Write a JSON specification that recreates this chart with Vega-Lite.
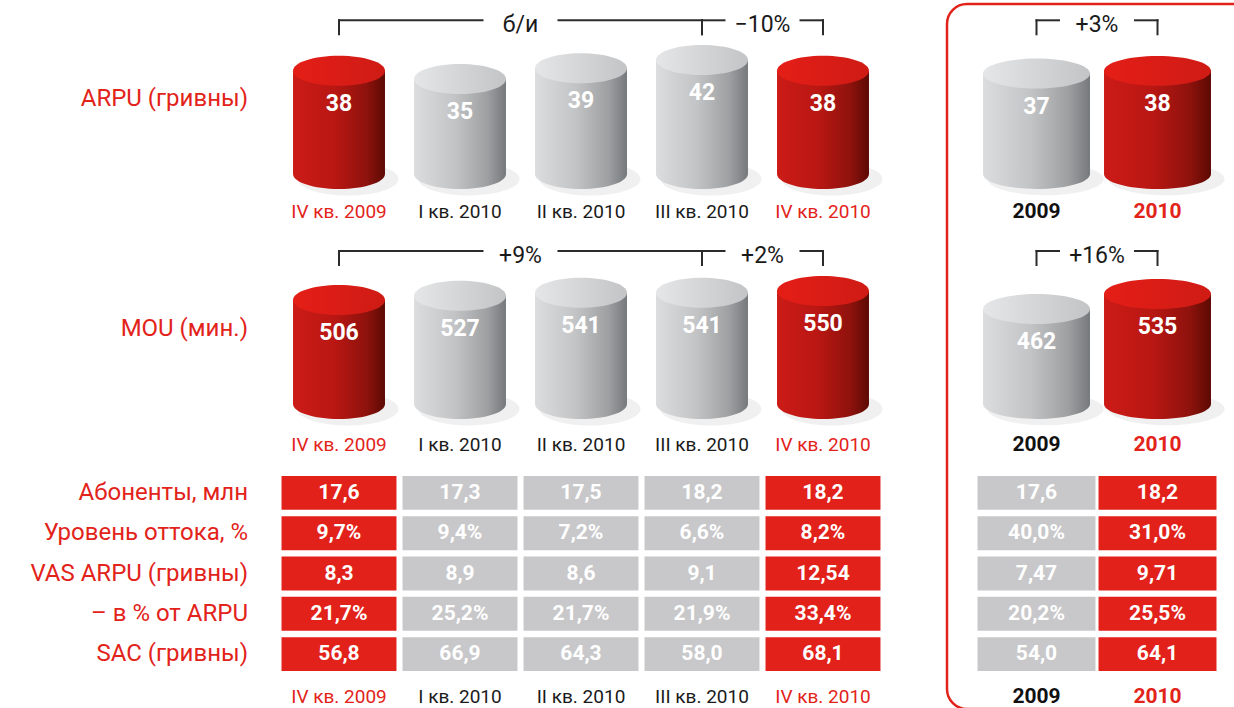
{
  "$schema": "https://vega.github.io/schema/vega-lite/v6.json",
  "padding": {"left": 0, "top": 2, "right": -72, "bottom": 0},
  "background": "white",
  "config": {"view": {"stroke": null}, "axis": {"disable": true}, "text": {"font": "Roboto"}},
  "datasets": {
    "cylQ": [
      {"metric": "ARPU", "period": "IV кв. 2009", "value": 38, "hl": true},
      {"metric": "ARPU", "period": "I кв. 2010", "value": 35, "hl": false},
      {"metric": "ARPU", "period": "II кв. 2010", "value": 39, "hl": false},
      {"metric": "ARPU", "period": "III кв. 2010", "value": 42, "hl": false},
      {"metric": "ARPU", "period": "IV кв. 2010", "value": 38, "hl": true},
      {"metric": "MOU", "period": "IV кв. 2009", "value": 506, "hl": true},
      {"metric": "MOU", "period": "I кв. 2010", "value": 527, "hl": false},
      {"metric": "MOU", "period": "II кв. 2010", "value": 541, "hl": false},
      {"metric": "MOU", "period": "III кв. 2010", "value": 541, "hl": false},
      {"metric": "MOU", "period": "IV кв. 2010", "value": 550, "hl": true}
    ],
    "cylY": [
      {"metric": "ARPU", "period": "2009", "value": 37, "hl": false},
      {"metric": "ARPU", "period": "2010", "value": 38, "hl": true},
      {"metric": "MOU", "period": "2009", "value": 462, "hl": false},
      {"metric": "MOU", "period": "2010", "value": 535, "hl": true}
    ],
    "brkQ": [
      {"metric": "ARPU", "from": "IV кв. 2009", "mid": "I кв. 2010", "to": "III кв. 2010", "text": "б/и"},
      {"metric": "ARPU", "from": "III кв. 2010", "mid": "III кв. 2010", "to": "IV кв. 2010", "text": "−10%"},
      {"metric": "MOU", "from": "IV кв. 2009", "mid": "I кв. 2010", "to": "III кв. 2010", "text": "+9%"},
      {"metric": "MOU", "from": "III кв. 2010", "mid": "III кв. 2010", "to": "IV кв. 2010", "text": "+2%"}
    ],
    "brkY": [
      {"metric": "ARPU", "from": "2009", "mid": "2009", "to": "2010", "text": "+3%"},
      {"metric": "MOU", "from": "2009", "mid": "2009", "to": "2010", "text": "+16%"}
    ],
    "tblQ": [
      {"metric": "Абоненты, млн", "period": "IV кв. 2009", "text": "17,6", "hl": true},
      {"metric": "Абоненты, млн", "period": "I кв. 2010", "text": "17,3", "hl": false},
      {"metric": "Абоненты, млн", "period": "II кв. 2010", "text": "17,5", "hl": false},
      {"metric": "Абоненты, млн", "period": "III кв. 2010", "text": "18,2", "hl": false},
      {"metric": "Абоненты, млн", "period": "IV кв. 2010", "text": "18,2", "hl": true},
      {"metric": "Уровень оттока, %", "period": "IV кв. 2009", "text": "9,7%", "hl": true},
      {"metric": "Уровень оттока, %", "period": "I кв. 2010", "text": "9,4%", "hl": false},
      {"metric": "Уровень оттока, %", "period": "II кв. 2010", "text": "7,2%", "hl": false},
      {"metric": "Уровень оттока, %", "period": "III кв. 2010", "text": "6,6%", "hl": false},
      {"metric": "Уровень оттока, %", "period": "IV кв. 2010", "text": "8,2%", "hl": true},
      {"metric": "VAS ARPU (гривны)", "period": "IV кв. 2009", "text": "8,3", "hl": true},
      {"metric": "VAS ARPU (гривны)", "period": "I кв. 2010", "text": "8,9", "hl": false},
      {"metric": "VAS ARPU (гривны)", "period": "II кв. 2010", "text": "8,6", "hl": false},
      {"metric": "VAS ARPU (гривны)", "period": "III кв. 2010", "text": "9,1", "hl": false},
      {"metric": "VAS ARPU (гривны)", "period": "IV кв. 2010", "text": "12,54", "hl": true},
      {"metric": "– в % от ARPU", "period": "IV кв. 2009", "text": "21,7%", "hl": true},
      {"metric": "– в % от ARPU", "period": "I кв. 2010", "text": "25,2%", "hl": false},
      {"metric": "– в % от ARPU", "period": "II кв. 2010", "text": "21,7%", "hl": false},
      {"metric": "– в % от ARPU", "period": "III кв. 2010", "text": "21,9%", "hl": false},
      {"metric": "– в % от ARPU", "period": "IV кв. 2010", "text": "33,4%", "hl": true},
      {"metric": "SAC (гривны)", "period": "IV кв. 2009", "text": "56,8", "hl": true},
      {"metric": "SAC (гривны)", "period": "I кв. 2010", "text": "66,9", "hl": false},
      {"metric": "SAC (гривны)", "period": "II кв. 2010", "text": "64,3", "hl": false},
      {"metric": "SAC (гривны)", "period": "III кв. 2010", "text": "58,0", "hl": false},
      {"metric": "SAC (гривны)", "period": "IV кв. 2010", "text": "68,1", "hl": true}
    ],
    "tblY": [
      {"metric": "Абоненты, млн", "period": "2009", "text": "17,6", "hl": false},
      {"metric": "Абоненты, млн", "period": "2010", "text": "18,2", "hl": true},
      {"metric": "Уровень оттока, %", "period": "2009", "text": "40,0%", "hl": false},
      {"metric": "Уровень оттока, %", "period": "2010", "text": "31,0%", "hl": true},
      {"metric": "VAS ARPU (гривны)", "period": "2009", "text": "7,47", "hl": false},
      {"metric": "VAS ARPU (гривны)", "period": "2010", "text": "9,71", "hl": true},
      {"metric": "– в % от ARPU", "period": "2009", "text": "20,2%", "hl": false},
      {"metric": "– в % от ARPU", "period": "2010", "text": "25,5%", "hl": true},
      {"metric": "SAC (гривны)", "period": "2009", "text": "54,0", "hl": false},
      {"metric": "SAC (гривны)", "period": "2010", "text": "64,1", "hl": true}
    ],
    "rowLabels": [
      {"metric": "ARPU", "label": "ARPU (гривны)"},
      {"metric": "MOU", "label": "MOU (мин.)"}
    ],
    "tblLabels": [
      {"metric": "Абоненты, млн"},
      {"metric": "Уровень оттока, %"},
      {"metric": "VAS ARPU (гривны)"},
      {"metric": "– в % от ARPU"},
      {"metric": "SAC (гривны)"}
    ]
  },
  "spacing": 28.5,
  "hconcat": [
    {
      "width": 250,
      "height": 705,
      "resolve": {"scale": {"y": "independent"}},
      "layer": [
        {
          "data": {"name": "rowLabels"},
          "mark": {"type": "text", "align": "right", "baseline": "middle", "dx": -2, "fontSize": 24, "color": "#e2231a"},
          "encoding": {
            "x": {"value": "width"},
            "y": {"field": "metric", "type": "nominal", "scale": {"type": "point", "domain": ["ARPU", "MOU"], "range": [95, 325], "padding": 0}},
            "text": {"field": "label"}
          }
        },
        {
          "data": {"name": "tblLabels"},
          "mark": {"type": "text", "align": "right", "baseline": "middle", "dx": -2, "fontSize": 24, "color": "#e2231a"},
          "encoding": {
            "x": {"value": "width"},
            "y": {"field": "metric", "type": "nominal", "scale": {"type": "band", "domain": ["Абоненты, млн", "Уровень оттока, %", "VAS ARPU (гривны)", "– в % от ARPU", "SAC (гривны)"], "range": [472, 667], "paddingInner": 0.16, "paddingOuter": 0}},
            "text": {"field": "metric"}
          }
        }
      ]
    },
    {
      "spacing": 61.5,
      "hconcat": [
        {
          "width": 605,
          "height": 705,
          "resolve": {"scale": {"y": "independent"}},
          "layer": [
            {
              "data": {"name": "cylQ"},
              "transform": [{"filter": "datum.metric === 'ARPU'"}],
              "mark": {"type": "point", "shape": "M-1,0C-1,-0.18,-0.552,-0.326,0,-0.326C0.552,-0.326,1,-0.18,1,0C1,0.18,0.552,0.326,0,0.326C-0.552,0.326,-1,0.18,-1,0Z", "size": 10200, "filled": true, "opacity": 0.06, "fill": "#000", "strokeWidth": 0, "xOffset": 9, "yOffset": 5},
              "encoding": {
                "x": {"field": "period", "type": "nominal", "scale": {"domain": ["IV кв. 2009", "I кв. 2010", "II кв. 2010", "III кв. 2010", "IV кв. 2010"], "paddingInner": 0, "paddingOuter": 0}},
                "y": {"datum": 0, "type": "quantitative", "scale": {"domain": [0, 50], "range": [170, 34.3]}}
              }
            },
            {
              "data": {"name": "cylQ"},
              "transform": [{"filter": "datum.metric === 'ARPU'"}],
              "mark": {"type": "point", "shape": "M-1,0C-1,-0.18,-0.552,-0.326,0,-0.326C0.552,-0.326,1,-0.18,1,0C1,0.18,0.552,0.326,0,0.326C-0.552,0.326,-1,0.18,-1,0Z", "size": 8464, "filled": true, "opacity": 1, "strokeWidth": 0},
              "encoding": {
                "x": {"field": "period", "type": "nominal", "scale": {"domain": ["IV кв. 2009", "I кв. 2010", "II кв. 2010", "III кв. 2010", "IV кв. 2010"], "paddingInner": 0, "paddingOuter": 0}},
                "y": {"datum": 0, "type": "quantitative", "scale": {"domain": [0, 50], "range": [170, 34.3]}},
                "fill": {"condition": {"test": "datum.hl", "value": {"gradient": "linear", "x1": 0, "y1": 0, "x2": 1, "y2": 0, "stops": [{"offset": 0, "color": "#cc1b17"}, {"offset": 0.45, "color": "#b91713"}, {"offset": 0.8, "color": "#8e120d"}, {"offset": 1, "color": "#5c0a03"}]}}, "value": {"gradient": "linear", "x1": 0, "y1": 0, "x2": 1, "y2": 0, "stops": [{"offset": 0, "color": "#dcdddf"}, {"offset": 0.45, "color": "#c2c3c5"}, {"offset": 0.8, "color": "#9d9fa1"}, {"offset": 1, "color": "#76797b"}]}}
              }
            },
            {
              "data": {"name": "cylQ"},
              "transform": [{"filter": "datum.metric === 'ARPU'"}],
              "mark": {"type": "bar", "width": {"band": 0.76}},
              "encoding": {
                "x": {"field": "period", "type": "nominal", "scale": {"domain": ["IV кв. 2009", "I кв. 2010", "II кв. 2010", "III кв. 2010", "IV кв. 2010"], "paddingInner": 0, "paddingOuter": 0}},
                "y": {"field": "value", "type": "quantitative", "scale": {"domain": [0, 50], "range": [170, 34.3]}},
                "y2": {"datum": 0},
                "fill": {"condition": {"test": "datum.hl", "value": {"gradient": "linear", "x1": 0, "y1": 0, "x2": 1, "y2": 0, "stops": [{"offset": 0, "color": "#cc1b17"}, {"offset": 0.45, "color": "#b91713"}, {"offset": 0.8, "color": "#8e120d"}, {"offset": 1, "color": "#5c0a03"}]}}, "value": {"gradient": "linear", "x1": 0, "y1": 0, "x2": 1, "y2": 0, "stops": [{"offset": 0, "color": "#dcdddf"}, {"offset": 0.45, "color": "#c2c3c5"}, {"offset": 0.8, "color": "#9d9fa1"}, {"offset": 1, "color": "#76797b"}]}}
              }
            },
            {
              "data": {"name": "cylQ"},
              "transform": [{"filter": "datum.metric === 'ARPU'"}],
              "mark": {"type": "point", "shape": "M-1,0C-1,-0.18,-0.552,-0.326,0,-0.326C0.552,-0.326,1,-0.18,1,0C1,0.18,0.552,0.326,0,0.326C-0.552,0.326,-1,0.18,-1,0Z", "size": 8464, "filled": true, "opacity": 1, "strokeWidth": 0},
              "encoding": {
                "x": {"field": "period", "type": "nominal", "scale": {"domain": ["IV кв. 2009", "I кв. 2010", "II кв. 2010", "III кв. 2010", "IV кв. 2010"], "paddingInner": 0, "paddingOuter": 0}},
                "y": {"field": "value", "type": "quantitative", "scale": {"domain": [0, 50], "range": [170, 34.3]}},
                "fill": {"condition": {"test": "datum.hl", "value": {"gradient": "linear", "x1": 0, "y1": 0, "x2": 1, "y2": 0, "stops": [{"offset": 0, "color": "#e41e17"}, {"offset": 1, "color": "#cf1b15"}]}}, "value": {"gradient": "linear", "x1": 0, "y1": 0, "x2": 1, "y2": 0, "stops": [{"offset": 0, "color": "#e5e6e7"}, {"offset": 1, "color": "#c3c4c6"}]}}
              }
            },
            {
              "data": {"name": "cylQ"},
              "transform": [{"filter": "datum.metric === 'ARPU'"}],
              "mark": {"type": "text", "dy": 33, "baseline": "middle", "fontSize": 23, "fontWeight": "bold", "fill": "#ffffff"},
              "encoding": {
                "x": {"field": "period", "type": "nominal", "scale": {"domain": ["IV кв. 2009", "I кв. 2010", "II кв. 2010", "III кв. 2010", "IV кв. 2010"], "paddingInner": 0, "paddingOuter": 0}},
                "y": {"field": "value", "type": "quantitative", "scale": {"domain": [0, 50], "range": [170, 34.3]}},
                "text": {"field": "value", "type": "quantitative"}
              }
            },
            {
              "data": {"name": "cylQ"},
              "transform": [{"filter": "datum.metric === 'MOU'"}],
              "mark": {"type": "point", "shape": "M-1,0C-1,-0.18,-0.552,-0.326,0,-0.326C0.552,-0.326,1,-0.18,1,0C1,0.18,0.552,0.326,0,0.326C-0.552,0.326,-1,0.18,-1,0Z", "size": 10200, "filled": true, "opacity": 0.06, "fill": "#000", "strokeWidth": 0, "xOffset": 9, "yOffset": 5},
              "encoding": {
                "x": {"field": "period", "type": "nominal", "scale": {"domain": ["IV кв. 2009", "I кв. 2010", "II кв. 2010", "III кв. 2010", "IV кв. 2010"], "paddingInner": 0, "paddingOuter": 0}},
                "y": {"datum": 0, "type": "quantitative", "scale": {"domain": [0, 600], "range": [400, 276.7]}}
              }
            },
            {
              "data": {"name": "cylQ"},
              "transform": [{"filter": "datum.metric === 'MOU'"}],
              "mark": {"type": "point", "shape": "M-1,0C-1,-0.18,-0.552,-0.326,0,-0.326C0.552,-0.326,1,-0.18,1,0C1,0.18,0.552,0.326,0,0.326C-0.552,0.326,-1,0.18,-1,0Z", "size": 8464, "filled": true, "opacity": 1, "strokeWidth": 0},
              "encoding": {
                "x": {"field": "period", "type": "nominal", "scale": {"domain": ["IV кв. 2009", "I кв. 2010", "II кв. 2010", "III кв. 2010", "IV кв. 2010"], "paddingInner": 0, "paddingOuter": 0}},
                "y": {"datum": 0, "type": "quantitative", "scale": {"domain": [0, 600], "range": [400, 276.7]}},
                "fill": {"condition": {"test": "datum.hl", "value": {"gradient": "linear", "x1": 0, "y1": 0, "x2": 1, "y2": 0, "stops": [{"offset": 0, "color": "#cc1b17"}, {"offset": 0.45, "color": "#b91713"}, {"offset": 0.8, "color": "#8e120d"}, {"offset": 1, "color": "#5c0a03"}]}}, "value": {"gradient": "linear", "x1": 0, "y1": 0, "x2": 1, "y2": 0, "stops": [{"offset": 0, "color": "#dcdddf"}, {"offset": 0.45, "color": "#c2c3c5"}, {"offset": 0.8, "color": "#9d9fa1"}, {"offset": 1, "color": "#76797b"}]}}
              }
            },
            {
              "data": {"name": "cylQ"},
              "transform": [{"filter": "datum.metric === 'MOU'"}],
              "mark": {"type": "bar", "width": {"band": 0.76}},
              "encoding": {
                "x": {"field": "period", "type": "nominal", "scale": {"domain": ["IV кв. 2009", "I кв. 2010", "II кв. 2010", "III кв. 2010", "IV кв. 2010"], "paddingInner": 0, "paddingOuter": 0}},
                "y": {"field": "value", "type": "quantitative", "scale": {"domain": [0, 600], "range": [400, 276.7]}},
                "y2": {"datum": 0},
                "fill": {"condition": {"test": "datum.hl", "value": {"gradient": "linear", "x1": 0, "y1": 0, "x2": 1, "y2": 0, "stops": [{"offset": 0, "color": "#cc1b17"}, {"offset": 0.45, "color": "#b91713"}, {"offset": 0.8, "color": "#8e120d"}, {"offset": 1, "color": "#5c0a03"}]}}, "value": {"gradient": "linear", "x1": 0, "y1": 0, "x2": 1, "y2": 0, "stops": [{"offset": 0, "color": "#dcdddf"}, {"offset": 0.45, "color": "#c2c3c5"}, {"offset": 0.8, "color": "#9d9fa1"}, {"offset": 1, "color": "#76797b"}]}}
              }
            },
            {
              "data": {"name": "cylQ"},
              "transform": [{"filter": "datum.metric === 'MOU'"}],
              "mark": {"type": "point", "shape": "M-1,0C-1,-0.18,-0.552,-0.326,0,-0.326C0.552,-0.326,1,-0.18,1,0C1,0.18,0.552,0.326,0,0.326C-0.552,0.326,-1,0.18,-1,0Z", "size": 8464, "filled": true, "opacity": 1, "strokeWidth": 0},
              "encoding": {
                "x": {"field": "period", "type": "nominal", "scale": {"domain": ["IV кв. 2009", "I кв. 2010", "II кв. 2010", "III кв. 2010", "IV кв. 2010"], "paddingInner": 0, "paddingOuter": 0}},
                "y": {"field": "value", "type": "quantitative", "scale": {"domain": [0, 600], "range": [400, 276.7]}},
                "fill": {"condition": {"test": "datum.hl", "value": {"gradient": "linear", "x1": 0, "y1": 0, "x2": 1, "y2": 0, "stops": [{"offset": 0, "color": "#e41e17"}, {"offset": 1, "color": "#cf1b15"}]}}, "value": {"gradient": "linear", "x1": 0, "y1": 0, "x2": 1, "y2": 0, "stops": [{"offset": 0, "color": "#e5e6e7"}, {"offset": 1, "color": "#c3c4c6"}]}}
              }
            },
            {
              "data": {"name": "cylQ"},
              "transform": [{"filter": "datum.metric === 'MOU'"}],
              "mark": {"type": "text", "dy": 33, "baseline": "middle", "fontSize": 23, "fontWeight": "bold", "fill": "#ffffff"},
              "encoding": {
                "x": {"field": "period", "type": "nominal", "scale": {"domain": ["IV кв. 2009", "I кв. 2010", "II кв. 2010", "III кв. 2010", "IV кв. 2010"], "paddingInner": 0, "paddingOuter": 0}},
                "y": {"field": "value", "type": "quantitative", "scale": {"domain": [0, 600], "range": [400, 276.7]}},
                "text": {"field": "value", "type": "quantitative"}
              }
            },
            {
              "data": {"name": "brkQ"},
              "mark": {"type": "rule", "x2Offset": -38, "color": "#2b2b2b", "strokeWidth": 2, "strokeCap": "square"},
              "encoding": {
                "x": {"field": "from", "type": "nominal", "bandPosition": 0.5, "scale": {"domain": ["IV кв. 2009", "I кв. 2010", "II кв. 2010", "III кв. 2010", "IV кв. 2010"], "paddingInner": 0, "paddingOuter": 0}},
                "x2": {"field": "mid", "bandPosition": 1},
                "y": {"field": "metric", "type": "nominal", "scale": {"type": "point", "domain": ["ARPU", "MOU"], "range": [16.3, 247], "padding": 0}}
              }
            },
            {
              "data": {"name": "brkQ"},
              "mark": {"type": "rule", "xOffset": 38, "color": "#2b2b2b", "strokeWidth": 2, "strokeCap": "square"},
              "encoding": {
                "x": {"field": "mid", "type": "nominal", "bandPosition": 1, "scale": {"domain": ["IV кв. 2009", "I кв. 2010", "II кв. 2010", "III кв. 2010", "IV кв. 2010"], "paddingInner": 0, "paddingOuter": 0}},
                "x2": {"field": "to", "bandPosition": 0.5},
                "y": {"field": "metric", "type": "nominal", "scale": {"type": "point", "domain": ["ARPU", "MOU"], "range": [16.3, 247], "padding": 0}}
              }
            },
            {
              "data": {"name": "brkQ"},
              "mark": {"type": "rule", "y2Offset": 14, "color": "#2b2b2b", "strokeWidth": 2, "strokeCap": "square"},
              "encoding": {
                "x": {"field": "from", "type": "nominal", "bandPosition": 0.5, "scale": {"domain": ["IV кв. 2009", "I кв. 2010", "II кв. 2010", "III кв. 2010", "IV кв. 2010"], "paddingInner": 0, "paddingOuter": 0}},
                "y": {"field": "metric", "type": "nominal", "scale": {"type": "point", "domain": ["ARPU", "MOU"], "range": [16.3, 247], "padding": 0}},
                "y2": {"field": "metric"}
              }
            },
            {
              "data": {"name": "brkQ"},
              "mark": {"type": "rule", "y2Offset": 14, "color": "#2b2b2b", "strokeWidth": 2, "strokeCap": "square"},
              "encoding": {
                "x": {"field": "to", "type": "nominal", "bandPosition": 0.5, "scale": {"domain": ["IV кв. 2009", "I кв. 2010", "II кв. 2010", "III кв. 2010", "IV кв. 2010"], "paddingInner": 0, "paddingOuter": 0}},
                "y": {"field": "metric", "type": "nominal", "scale": {"type": "point", "domain": ["ARPU", "MOU"], "range": [16.3, 247], "padding": 0}},
                "y2": {"field": "metric"}
              }
            },
            {
              "data": {"name": "brkQ"},
              "mark": {"type": "text", "dy": 5, "baseline": "middle", "fontSize": 23, "color": "#1a1a1a"},
              "encoding": {
                "x": {"field": "mid", "type": "nominal", "bandPosition": 1, "scale": {"domain": ["IV кв. 2009", "I кв. 2010", "II кв. 2010", "III кв. 2010", "IV кв. 2010"], "paddingInner": 0, "paddingOuter": 0}},
                "y": {"field": "metric", "type": "nominal", "scale": {"type": "point", "domain": ["ARPU", "MOU"], "range": [16.3, 247], "padding": 0}},
                "text": {"field": "text"}
              }
            },
            {
              "data": {"name": "cylQ"},
              "mark": {"type": "text", "baseline": "middle", "fontSize": 19},
              "encoding": {
                "x": {"field": "period", "type": "nominal", "scale": {"domain": ["IV кв. 2009", "I кв. 2010", "II кв. 2010", "III кв. 2010", "IV кв. 2010"], "paddingInner": 0, "paddingOuter": 0}},
                "y": {"field": "metric", "type": "nominal", "scale": {"type": "point", "domain": ["ARPU", "MOU"], "range": [208, 441], "padding": 0}},
                "text": {"field": "period"},
                "color": {"condition": {"test": "datum.hl", "value": "#e2231a"}, "value": "#1a1a1a"}
              }
            },
            {
              "data": {"name": "tblQ"},
              "mark": {"type": "rect", "width": {"band": 0.95}},
              "encoding": {
                "x": {"field": "period", "type": "nominal", "scale": {"domain": ["IV кв. 2009", "I кв. 2010", "II кв. 2010", "III кв. 2010", "IV кв. 2010"], "paddingInner": 0, "paddingOuter": 0}},
                "y": {"field": "metric", "type": "nominal", "scale": {"type": "band", "domain": ["Абоненты, млн", "Уровень оттока, %", "VAS ARPU (гривны)", "– в % от ARPU", "SAC (гривны)"], "range": [472, 667], "paddingInner": 0.16, "paddingOuter": 0}},
                "fill": {"condition": {"test": "datum.hl", "value": "#e2211a"}, "value": "#c8c8ca"}
              }
            },
            {
              "data": {"name": "tblQ"},
              "mark": {"type": "text", "baseline": "middle", "fontSize": 21, "fontWeight": "bold", "fill": "#ffffff"},
              "encoding": {
                "x": {"field": "period", "type": "nominal", "scale": {"domain": ["IV кв. 2009", "I кв. 2010", "II кв. 2010", "III кв. 2010", "IV кв. 2010"], "paddingInner": 0, "paddingOuter": 0}},
                "y": {"field": "metric", "type": "nominal", "scale": {"type": "band", "domain": ["Абоненты, млн", "Уровень оттока, %", "VAS ARPU (гривны)", "– в % от ARPU", "SAC (гривны)"], "range": [472, 667], "paddingInner": 0.16, "paddingOuter": 0}},
                "text": {"field": "text"}
              }
            },
            {
              "data": {"name": "tblQ"},
              "transform": [{"filter": "datum.metric === 'SAC (гривны)'"}],
              "mark": {"type": "text", "baseline": "middle", "dy": 43, "fontSize": 19},
              "encoding": {
                "x": {"field": "period", "type": "nominal", "scale": {"domain": ["IV кв. 2009", "I кв. 2010", "II кв. 2010", "III кв. 2010", "IV кв. 2010"], "paddingInner": 0, "paddingOuter": 0}},
                "y": {"field": "metric", "type": "nominal", "scale": {"type": "band", "domain": ["Абоненты, млн", "Уровень оттока, %", "VAS ARPU (гривны)", "– в % от ARPU", "SAC (гривны)"], "range": [472, 667], "paddingInner": 0.16, "paddingOuter": 0}},
                "text": {"field": "period"},
                "color": {"condition": {"test": "datum.hl", "value": "#e2231a"}, "value": "#1a1a1a"}
              }
            }
          ]
        },
        {
          "width": 360,
          "height": 705,
          "view": {"stroke": "#e2231a", "strokeWidth": 2.5, "cornerRadius": 20, "fill": null},
          "resolve": {"scale": {"y": "independent"}},
          "layer": [
            {
              "data": {"name": "cylY"},
              "transform": [{"filter": "datum.metric === 'ARPU'"}],
              "mark": {"type": "point", "shape": "M-1,0C-1,-0.155,-0.552,-0.28,0,-0.28C0.552,-0.28,1,-0.155,1,0C1,0.155,0.552,0.28,0,0.28C-0.552,0.28,-1,0.155,-1,0Z", "size": 13500, "filled": true, "opacity": 0.06, "fill": "#000", "strokeWidth": 0, "xOffset": 9, "yOffset": 5},
              "encoding": {
                "x": {"field": "period", "type": "nominal", "scale": {"domain": ["2009", "2010"], "paddingInner": 0, "paddingOuter": 0.4876, "align": 0.2458}},
                "y": {"datum": 0, "type": "quantitative", "scale": {"domain": [0, 50], "range": [170, 34.3]}}
              }
            },
            {
              "data": {"name": "cylY"},
              "transform": [{"filter": "datum.metric === 'ARPU'"}],
              "mark": {"type": "point", "shape": "M-1,0C-1,-0.155,-0.552,-0.28,0,-0.28C0.552,-0.28,1,-0.155,1,0C1,0.155,0.552,0.28,0,0.28C-0.552,0.28,-1,0.155,-1,0Z", "size": 11449, "filled": true, "opacity": 1, "strokeWidth": 0},
              "encoding": {
                "x": {"field": "period", "type": "nominal", "scale": {"domain": ["2009", "2010"], "paddingInner": 0, "paddingOuter": 0.4876, "align": 0.2458}},
                "y": {"datum": 0, "type": "quantitative", "scale": {"domain": [0, 50], "range": [170, 34.3]}},
                "fill": {"condition": {"test": "datum.hl", "value": {"gradient": "linear", "x1": 0, "y1": 0, "x2": 1, "y2": 0, "stops": [{"offset": 0, "color": "#cc1b17"}, {"offset": 0.45, "color": "#b91713"}, {"offset": 0.8, "color": "#8e120d"}, {"offset": 1, "color": "#5c0a03"}]}}, "value": {"gradient": "linear", "x1": 0, "y1": 0, "x2": 1, "y2": 0, "stops": [{"offset": 0, "color": "#dcdddf"}, {"offset": 0.45, "color": "#c2c3c5"}, {"offset": 0.8, "color": "#9d9fa1"}, {"offset": 1, "color": "#76797b"}]}}
              }
            },
            {
              "data": {"name": "cylY"},
              "transform": [{"filter": "datum.metric === 'ARPU'"}],
              "mark": {"type": "bar", "width": {"band": 0.884}},
              "encoding": {
                "x": {"field": "period", "type": "nominal", "scale": {"domain": ["2009", "2010"], "paddingInner": 0, "paddingOuter": 0.4876, "align": 0.2458}},
                "y": {"field": "value", "type": "quantitative", "scale": {"domain": [0, 50], "range": [170, 34.3]}},
                "y2": {"datum": 0},
                "fill": {"condition": {"test": "datum.hl", "value": {"gradient": "linear", "x1": 0, "y1": 0, "x2": 1, "y2": 0, "stops": [{"offset": 0, "color": "#cc1b17"}, {"offset": 0.45, "color": "#b91713"}, {"offset": 0.8, "color": "#8e120d"}, {"offset": 1, "color": "#5c0a03"}]}}, "value": {"gradient": "linear", "x1": 0, "y1": 0, "x2": 1, "y2": 0, "stops": [{"offset": 0, "color": "#dcdddf"}, {"offset": 0.45, "color": "#c2c3c5"}, {"offset": 0.8, "color": "#9d9fa1"}, {"offset": 1, "color": "#76797b"}]}}
              }
            },
            {
              "data": {"name": "cylY"},
              "transform": [{"filter": "datum.metric === 'ARPU'"}],
              "mark": {"type": "point", "shape": "M-1,0C-1,-0.155,-0.552,-0.28,0,-0.28C0.552,-0.28,1,-0.155,1,0C1,0.155,0.552,0.28,0,0.28C-0.552,0.28,-1,0.155,-1,0Z", "size": 11449, "filled": true, "opacity": 1, "strokeWidth": 0},
              "encoding": {
                "x": {"field": "period", "type": "nominal", "scale": {"domain": ["2009", "2010"], "paddingInner": 0, "paddingOuter": 0.4876, "align": 0.2458}},
                "y": {"field": "value", "type": "quantitative", "scale": {"domain": [0, 50], "range": [170, 34.3]}},
                "fill": {"condition": {"test": "datum.hl", "value": {"gradient": "linear", "x1": 0, "y1": 0, "x2": 1, "y2": 0, "stops": [{"offset": 0, "color": "#e41e17"}, {"offset": 1, "color": "#cf1b15"}]}}, "value": {"gradient": "linear", "x1": 0, "y1": 0, "x2": 1, "y2": 0, "stops": [{"offset": 0, "color": "#e5e6e7"}, {"offset": 1, "color": "#c3c4c6"}]}}
              }
            },
            {
              "data": {"name": "cylY"},
              "transform": [{"filter": "datum.metric === 'ARPU'"}],
              "mark": {"type": "text", "dy": 33, "baseline": "middle", "fontSize": 23, "fontWeight": "bold", "fill": "#ffffff"},
              "encoding": {
                "x": {"field": "period", "type": "nominal", "scale": {"domain": ["2009", "2010"], "paddingInner": 0, "paddingOuter": 0.4876, "align": 0.2458}},
                "y": {"field": "value", "type": "quantitative", "scale": {"domain": [0, 50], "range": [170, 34.3]}},
                "text": {"field": "value", "type": "quantitative"}
              }
            },
            {
              "data": {"name": "cylY"},
              "transform": [{"filter": "datum.metric === 'MOU'"}],
              "mark": {"type": "point", "shape": "M-1,0C-1,-0.155,-0.552,-0.28,0,-0.28C0.552,-0.28,1,-0.155,1,0C1,0.155,0.552,0.28,0,0.28C-0.552,0.28,-1,0.155,-1,0Z", "size": 13500, "filled": true, "opacity": 0.06, "fill": "#000", "strokeWidth": 0, "xOffset": 9, "yOffset": 5},
              "encoding": {
                "x": {"field": "period", "type": "nominal", "scale": {"domain": ["2009", "2010"], "paddingInner": 0, "paddingOuter": 0.4876, "align": 0.2458}},
                "y": {"datum": 0, "type": "quantitative", "scale": {"domain": [0, 600], "range": [400, 276.7]}}
              }
            },
            {
              "data": {"name": "cylY"},
              "transform": [{"filter": "datum.metric === 'MOU'"}],
              "mark": {"type": "point", "shape": "M-1,0C-1,-0.155,-0.552,-0.28,0,-0.28C0.552,-0.28,1,-0.155,1,0C1,0.155,0.552,0.28,0,0.28C-0.552,0.28,-1,0.155,-1,0Z", "size": 11449, "filled": true, "opacity": 1, "strokeWidth": 0},
              "encoding": {
                "x": {"field": "period", "type": "nominal", "scale": {"domain": ["2009", "2010"], "paddingInner": 0, "paddingOuter": 0.4876, "align": 0.2458}},
                "y": {"datum": 0, "type": "quantitative", "scale": {"domain": [0, 600], "range": [400, 276.7]}},
                "fill": {"condition": {"test": "datum.hl", "value": {"gradient": "linear", "x1": 0, "y1": 0, "x2": 1, "y2": 0, "stops": [{"offset": 0, "color": "#cc1b17"}, {"offset": 0.45, "color": "#b91713"}, {"offset": 0.8, "color": "#8e120d"}, {"offset": 1, "color": "#5c0a03"}]}}, "value": {"gradient": "linear", "x1": 0, "y1": 0, "x2": 1, "y2": 0, "stops": [{"offset": 0, "color": "#dcdddf"}, {"offset": 0.45, "color": "#c2c3c5"}, {"offset": 0.8, "color": "#9d9fa1"}, {"offset": 1, "color": "#76797b"}]}}
              }
            },
            {
              "data": {"name": "cylY"},
              "transform": [{"filter": "datum.metric === 'MOU'"}],
              "mark": {"type": "bar", "width": {"band": 0.884}},
              "encoding": {
                "x": {"field": "period", "type": "nominal", "scale": {"domain": ["2009", "2010"], "paddingInner": 0, "paddingOuter": 0.4876, "align": 0.2458}},
                "y": {"field": "value", "type": "quantitative", "scale": {"domain": [0, 600], "range": [400, 276.7]}},
                "y2": {"datum": 0},
                "fill": {"condition": {"test": "datum.hl", "value": {"gradient": "linear", "x1": 0, "y1": 0, "x2": 1, "y2": 0, "stops": [{"offset": 0, "color": "#cc1b17"}, {"offset": 0.45, "color": "#b91713"}, {"offset": 0.8, "color": "#8e120d"}, {"offset": 1, "color": "#5c0a03"}]}}, "value": {"gradient": "linear", "x1": 0, "y1": 0, "x2": 1, "y2": 0, "stops": [{"offset": 0, "color": "#dcdddf"}, {"offset": 0.45, "color": "#c2c3c5"}, {"offset": 0.8, "color": "#9d9fa1"}, {"offset": 1, "color": "#76797b"}]}}
              }
            },
            {
              "data": {"name": "cylY"},
              "transform": [{"filter": "datum.metric === 'MOU'"}],
              "mark": {"type": "point", "shape": "M-1,0C-1,-0.155,-0.552,-0.28,0,-0.28C0.552,-0.28,1,-0.155,1,0C1,0.155,0.552,0.28,0,0.28C-0.552,0.28,-1,0.155,-1,0Z", "size": 11449, "filled": true, "opacity": 1, "strokeWidth": 0},
              "encoding": {
                "x": {"field": "period", "type": "nominal", "scale": {"domain": ["2009", "2010"], "paddingInner": 0, "paddingOuter": 0.4876, "align": 0.2458}},
                "y": {"field": "value", "type": "quantitative", "scale": {"domain": [0, 600], "range": [400, 276.7]}},
                "fill": {"condition": {"test": "datum.hl", "value": {"gradient": "linear", "x1": 0, "y1": 0, "x2": 1, "y2": 0, "stops": [{"offset": 0, "color": "#e41e17"}, {"offset": 1, "color": "#cf1b15"}]}}, "value": {"gradient": "linear", "x1": 0, "y1": 0, "x2": 1, "y2": 0, "stops": [{"offset": 0, "color": "#e5e6e7"}, {"offset": 1, "color": "#c3c4c6"}]}}
              }
            },
            {
              "data": {"name": "cylY"},
              "transform": [{"filter": "datum.metric === 'MOU'"}],
              "mark": {"type": "text", "dy": 33, "baseline": "middle", "fontSize": 23, "fontWeight": "bold", "fill": "#ffffff"},
              "encoding": {
                "x": {"field": "period", "type": "nominal", "scale": {"domain": ["2009", "2010"], "paddingInner": 0, "paddingOuter": 0.4876, "align": 0.2458}},
                "y": {"field": "value", "type": "quantitative", "scale": {"domain": [0, 600], "range": [400, 276.7]}},
                "text": {"field": "value", "type": "quantitative"}
              }
            },
            {
              "data": {"name": "brkY"},
              "mark": {"type": "rule", "x2Offset": -38, "color": "#2b2b2b", "strokeWidth": 2, "strokeCap": "square"},
              "encoding": {
                "x": {"field": "from", "type": "nominal", "bandPosition": 0.5, "scale": {"domain": ["2009", "2010"], "paddingInner": 0, "paddingOuter": 0.4876, "align": 0.2458}},
                "x2": {"field": "mid", "bandPosition": 1},
                "y": {"field": "metric", "type": "nominal", "scale": {"type": "point", "domain": ["ARPU", "MOU"], "range": [16.3, 247], "padding": 0}}
              }
            },
            {
              "data": {"name": "brkY"},
              "mark": {"type": "rule", "xOffset": 38, "color": "#2b2b2b", "strokeWidth": 2, "strokeCap": "square"},
              "encoding": {
                "x": {"field": "mid", "type": "nominal", "bandPosition": 1, "scale": {"domain": ["2009", "2010"], "paddingInner": 0, "paddingOuter": 0.4876, "align": 0.2458}},
                "x2": {"field": "to", "bandPosition": 0.5},
                "y": {"field": "metric", "type": "nominal", "scale": {"type": "point", "domain": ["ARPU", "MOU"], "range": [16.3, 247], "padding": 0}}
              }
            },
            {
              "data": {"name": "brkY"},
              "mark": {"type": "rule", "y2Offset": 14, "color": "#2b2b2b", "strokeWidth": 2, "strokeCap": "square"},
              "encoding": {
                "x": {"field": "from", "type": "nominal", "bandPosition": 0.5, "scale": {"domain": ["2009", "2010"], "paddingInner": 0, "paddingOuter": 0.4876, "align": 0.2458}},
                "y": {"field": "metric", "type": "nominal", "scale": {"type": "point", "domain": ["ARPU", "MOU"], "range": [16.3, 247], "padding": 0}},
                "y2": {"field": "metric"}
              }
            },
            {
              "data": {"name": "brkY"},
              "mark": {"type": "rule", "y2Offset": 14, "color": "#2b2b2b", "strokeWidth": 2, "strokeCap": "square"},
              "encoding": {
                "x": {"field": "to", "type": "nominal", "bandPosition": 0.5, "scale": {"domain": ["2009", "2010"], "paddingInner": 0, "paddingOuter": 0.4876, "align": 0.2458}},
                "y": {"field": "metric", "type": "nominal", "scale": {"type": "point", "domain": ["ARPU", "MOU"], "range": [16.3, 247], "padding": 0}},
                "y2": {"field": "metric"}
              }
            },
            {
              "data": {"name": "brkY"},
              "mark": {"type": "text", "dy": 5, "baseline": "middle", "fontSize": 23, "color": "#1a1a1a"},
              "encoding": {
                "x": {"field": "mid", "type": "nominal", "bandPosition": 1, "scale": {"domain": ["2009", "2010"], "paddingInner": 0, "paddingOuter": 0.4876, "align": 0.2458}},
                "y": {"field": "metric", "type": "nominal", "scale": {"type": "point", "domain": ["ARPU", "MOU"], "range": [16.3, 247], "padding": 0}},
                "text": {"field": "text"}
              }
            },
            {
              "data": {"name": "cylY"},
              "mark": {"type": "text", "baseline": "middle", "fontSize": 21, "fontWeight": "bold"},
              "encoding": {
                "x": {"field": "period", "type": "nominal", "scale": {"domain": ["2009", "2010"], "paddingInner": 0, "paddingOuter": 0.4876, "align": 0.2458}},
                "y": {"field": "metric", "type": "nominal", "scale": {"type": "point", "domain": ["ARPU", "MOU"], "range": [208, 441], "padding": 0}},
                "text": {"field": "period"},
                "color": {"condition": {"test": "datum.hl", "value": "#e2231a"}, "value": "#111111"}
              }
            },
            {
              "data": {"name": "tblY"},
              "mark": {"type": "rect", "width": {"band": 0.975}},
              "encoding": {
                "x": {"field": "period", "type": "nominal", "scale": {"domain": ["2009", "2010"], "paddingInner": 0, "paddingOuter": 0.4876, "align": 0.2458}},
                "y": {"field": "metric", "type": "nominal", "scale": {"type": "band", "domain": ["Абоненты, млн", "Уровень оттока, %", "VAS ARPU (гривны)", "– в % от ARPU", "SAC (гривны)"], "range": [472, 667], "paddingInner": 0.16, "paddingOuter": 0}},
                "fill": {"condition": {"test": "datum.hl", "value": "#e2211a"}, "value": "#c8c8ca"}
              }
            },
            {
              "data": {"name": "tblY"},
              "mark": {"type": "text", "baseline": "middle", "fontSize": 21, "fontWeight": "bold", "fill": "#ffffff"},
              "encoding": {
                "x": {"field": "period", "type": "nominal", "scale": {"domain": ["2009", "2010"], "paddingInner": 0, "paddingOuter": 0.4876, "align": 0.2458}},
                "y": {"field": "metric", "type": "nominal", "scale": {"type": "band", "domain": ["Абоненты, млн", "Уровень оттока, %", "VAS ARPU (гривны)", "– в % от ARPU", "SAC (гривны)"], "range": [472, 667], "paddingInner": 0.16, "paddingOuter": 0}},
                "text": {"field": "text"}
              }
            },
            {
              "data": {"name": "tblY"},
              "transform": [{"filter": "datum.metric === 'SAC (гривны)'"}],
              "mark": {"type": "text", "baseline": "middle", "dy": 43, "fontSize": 21, "fontWeight": "bold"},
              "encoding": {
                "x": {"field": "period", "type": "nominal", "scale": {"domain": ["2009", "2010"], "paddingInner": 0, "paddingOuter": 0.4876, "align": 0.2458}},
                "y": {"field": "metric", "type": "nominal", "scale": {"type": "band", "domain": ["Абоненты, млн", "Уровень оттока, %", "VAS ARPU (гривны)", "– в % от ARPU", "SAC (гривны)"], "range": [472, 667], "paddingInner": 0.16, "paddingOuter": 0}},
                "text": {"field": "period"},
                "color": {"condition": {"test": "datum.hl", "value": "#e2231a"}, "value": "#111111"}
              }
            }
          ]
        }
      ]
    }
  ]
}
